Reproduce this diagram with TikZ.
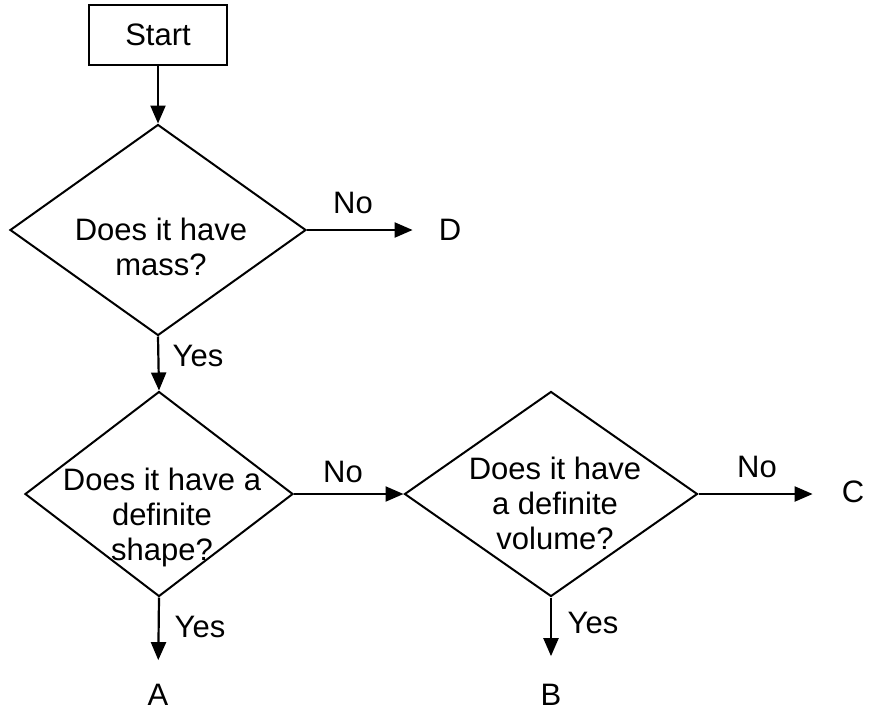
\documentclass[tikz,border=0pt]{standalone}
\usepackage{fontspec}
\setmainfont{Liberation Sans}
\usetikzlibrary{shapes.geometric,arrows.meta}
\begin{document}
\begin{tikzpicture}[x=1pt,y=-1pt,
  every node/.style={font=\fontsize{31}{35}\selectfont, inner sep=0pt},
  dia/.style={shape=diamond, draw, line width=2pt, minimum width=#1},
  startbox/.style={draw, line width=2pt, minimum width=138pt, minimum height=60pt},
  txt/.style={align=center},
  arr/.style={line width=2.2pt, -{Triangle[length=18pt,width=15pt]}}]
\useasboundingbox (0,0) rectangle (870,712);
\node[startbox] (start) at (158,35) {Start};
\node[dia=296pt, minimum height=211pt] (d1) at (158,230) {};
\node[txt] (t1) at (161,247) {Does it have\\mass?};
\node[dia=268pt, minimum height=205pt] (d2) at (159,494) {};
\node[txt] (t2) at (162,517) {Does it have a\\definite\\shape?};
\node[dia=293pt, minimum height=205pt] (d3) at (551,494) {};
\node[txt] (t3) at (555,503) {Does it have\\a definite\\volume?};
\node (D) at (450,230) {D};
\node (C) at (853,492) {C};
\node (A) at (158,695) {A};
\node (B) at (551,695) {B};
\node (no1) at (353,203) {No};
\node (yes1) at (198,356) {Yes};
\node (no2) at (343,472) {No};
\node (no3) at (757,467) {No};
\node (yes2) at (200,627) {Yes};
\node (yes3) at (593,623) {Yes};
\draw[arr] (start.south) -- (d1.north);
\draw[arr, shorten >=26pt] (d1.east) -- (d1.east -| D.west);
\draw[arr] (d1.south) -- (d2.north);
\draw[arr] (d2.east) -- (d3.west);
\draw[arr, shorten >=29pt] (d3.east) -- (d3.east -| C.west);
\draw[arr, shorten >=24pt] (d2.south) -- (A.north);
\draw[arr, shorten >=28pt] (d3.south) -- (B.north);
\end{tikzpicture}
\end{document}
